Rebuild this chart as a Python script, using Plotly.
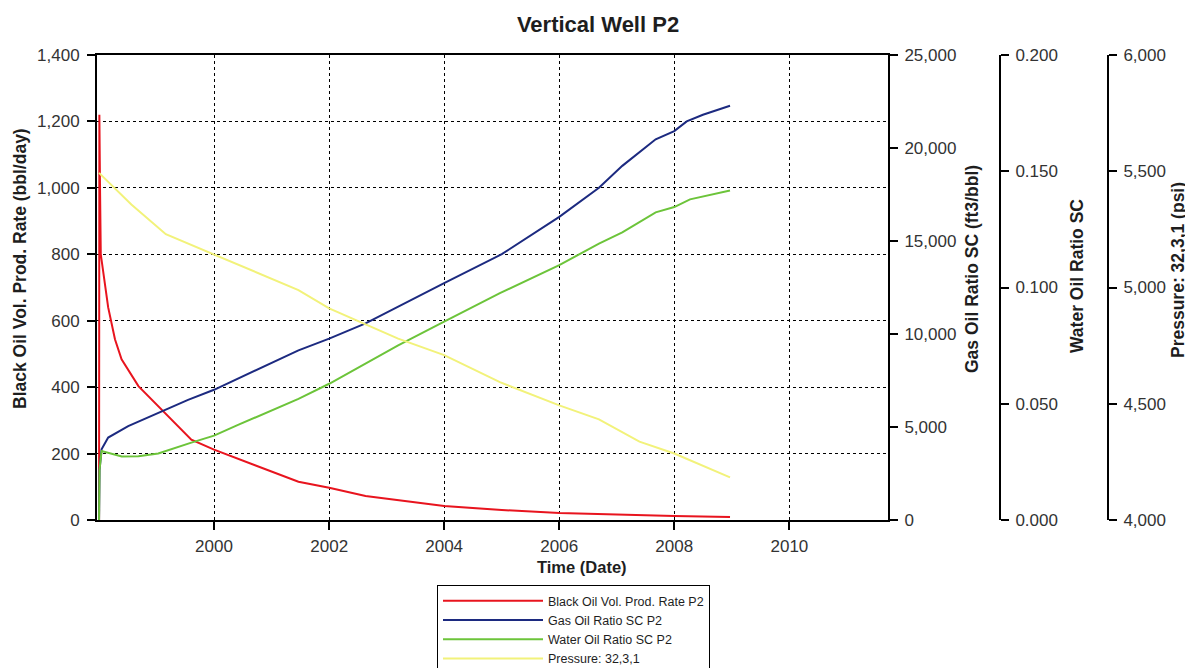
import plotly.graph_objects as go

# ---------------- data ----------------
oil_dates = ["1998-01-01", "1998-01-03", "1998-01-07", "1998-01-12", "1998-01-28", "1998-02-28",
             "1998-04-12", "1998-05-24", "1998-09-08", "1999-01-12", "1999-08-10", "2000-01-01",
             "2001-06-20", "2002-01-01", "2002-08-20", "2004-01-01", "2005-01-01", "2006-01-01",
             "2007-01-01", "2008-01-01", "2008-12-20"]
oil_rate = [0, 1220, 1010, 800, 740, 640, 544, 484, 403, 343, 242, 212,
            115, 97, 72, 42, 30, 21, 16, 12, 9]

gor_dates = ["1998-01-01", "1998-01-04", "1998-01-17", "1998-02-28", "1998-07-05", "1999-01-12",
             "1999-07-20", "2000-01-01", "2001-06-20", "2002-01-01", "2002-08-20", "2004-01-01",
             "2005-01-01", "2006-01-01", "2006-09-10", "2007-02-05", "2007-09-05", "2008-01-01",
             "2008-03-20", "2008-07-01", "2008-12-20"]
gor = [0, 2680, 3800, 4430, 5050, 5750, 6460, 7000, 9120, 9750, 10570, 12730,
       14290, 16300, 17860, 19040, 20470, 20910, 21430, 21790, 22270]

wor_dates = ["1998-01-01", "1998-01-04", "1998-01-17", "1998-05-25", "1998-09-08", "1999-01-12",
             "1999-08-10", "2000-01-01", "2000-06-05", "2001-06-20", "2002-01-01", "2003-03-15",
             "2004-01-01", "2004-12-20", "2006-01-01", "2006-09-10", "2007-02-05", "2007-09-05",
             "2008-01-01", "2008-04-10", "2008-12-20"]
wor = [0, 0.0214, 0.0297, 0.0273, 0.0274, 0.0286, 0.0333, 0.0363, 0.041, 0.0521, 0.0586, 0.0751,
       0.0853, 0.0976, 0.1096, 0.1189, 0.1237, 0.1323, 0.1346, 0.1379, 0.1417]

pres_dates = ["1998-01-01", "1998-07-25", "1999-03-01", "2000-01-01", "2001-06-20", "2002-01-01",
              "2003-03-15", "2004-01-01", "2004-12-20", "2006-01-01", "2006-09-10", "2007-05-25",
              "2008-01-01", "2008-12-20"]
pressure = [5493, 5357, 5229, 5143, 4989, 4910, 4780, 4709, 4593, 4493, 4433, 4337, 4286, 4183]

year_ticks = ["2000-01-01", "2002-01-01", "2004-01-01", "2006-01-01", "2008-01-01", "2010-01-01"]
year_labels = ["2000", "2002", "2004", "2006", "2008", "2010"]

names = ["Black Oil Vol. Prod. Rate P2", "Gas Oil Ratio SC P2", "Water Oil Ratio SC P2", "Pressure: 32,3,1"]
axis_titles = ["Black Oil Vol. Prod. Rate (bbl/day)", "Gas Oil Ratio SC (ft3/bbl)",
               "Water Oil Ratio SC", "Pressure: 32,3,1 (psi)"]

# ---------------- figure ----------------
FONT = "Liberation Sans, Arial, sans-serif"
TICKCOL = "#333333"
TXT = "#1e1e1e"

fig = go.Figure()
fig.add_trace(go.Scatter(x=oil_dates, y=oil_rate, name=names[0], mode="lines",
                         line=dict(color="#e8141e", width=2), yaxis="y"))
fig.add_trace(go.Scatter(x=gor_dates, y=gor, name=names[1], mode="lines",
                         line=dict(color="#1c2a80", width=2), yaxis="y2"))
fig.add_trace(go.Scatter(x=wor_dates, y=wor, name=names[2], mode="lines",
                         line=dict(color="#6cc43a", width=2), yaxis="y3"))
fig.add_trace(go.Scatter(x=pres_dates, y=pressure, name=names[3], mode="lines",
                         line=dict(color="#f2f27a", width=2), yaxis="y4"))

# the page body has an 8px default margin: the figure is drawn offset by OFF
OFF = 8
W, H = 1193 - OFF, 668 - OFF
PL, PR, PT, PB = 97, 888, 55, 520          # plot box in window pixels
ML, MT = PL - OFF, PT - OFF
MR = 4
MB = H - (PB - OFF)
pw = W - ML - MR
ph = H - MT - MB


def px_x(px):          # window pixel -> paper fraction
    return (px - PL) / pw


def px_y(py):
    return (PB - py) / ph


def cx(px):            # window pixel -> container fraction
    return (px - OFF) / W


def cy(py):
    return 1 - (py - OFF) / H


common_axis = dict(showline=True, linecolor="black", linewidth=2, ticks="outside",
                   ticklen=8, tickwidth=1.5, tickcolor="black",
                   tickfont=dict(size=17, color=TICKCOL, family=FONT), zeroline=False)

TITLE_FONT = dict(size=17.5, color=TXT, family=FONT)

# axis-title placements (window pixel centres)
title_pos = [(20, 269), (972, 269), (1077, 276), (1178, 270)]
annotations = [dict(text="<b>Time (Date)</b>", x=px_x(582), y=px_y(567),
                    xref="paper", yref="paper", xanchor="center", yanchor="middle",
                    showarrow=False, font=dict(size=16.5, color=TXT, family=FONT))]
for t, (tx, ty) in zip(axis_titles, title_pos):
    annotations.append(dict(text="<b>" + t + "</b>", x=px_x(tx), y=px_y(ty),
                            xref="paper", yref="paper", xanchor="center", yanchor="middle",
                            textangle=-90, showarrow=False, font=TITLE_FONT))

fig.update_layout(
    width=W, height=H,
    margin=dict(l=ML, r=MR, t=MT, b=MB, autoexpand=False),
    paper_bgcolor="white", plot_bgcolor="white",
    font=dict(family=FONT, color=TXT),
    title=dict(text="<b>Vertical Well P2</b>", x=cx(598), xref="container", xanchor="center",
               y=cy(24), yref="container", yanchor="middle",
               font=dict(size=22, color=TXT, family=FONT)),
    showlegend=True,
    legend=dict(x=cx(437), y=cy(585), xref="container", yref="container",
                xanchor="left", yanchor="top",
                bordercolor="black", borderwidth=1, bgcolor="white",
                font=dict(size=12.5, color=TXT, family=FONT),
                itemwidth=100, tracegroupgap=0),
    xaxis=dict(type="date", domain=[0, px_x(PR)],
               range=["1997-12-19", "2011-09-19"],
               tickmode="array", tickvals=year_ticks, ticktext=year_labels,
               showgrid=True, gridcolor="black", gridwidth=1, griddash="dot",
               mirror=True, ticklabelstandoff=2, **common_axis),
    yaxis=dict(range=[0, 1400], dtick=200, tickformat=",",
               showgrid=True, gridcolor="black", gridwidth=1, griddash="dot",
               ticklabelstandoff=4, **common_axis),
    yaxis2=dict(range=[0, 25000], dtick=5000, tickformat=",", overlaying="y", side="right",
                anchor="x", showgrid=False, ticklabelstandoff=3, **common_axis),
    yaxis3=dict(range=[0, 0.2], dtick=0.05, tickformat=".3f", overlaying="y", side="right",
                anchor="free", position=px_x(1000), showgrid=False, ticklabelstandoff=3,
                **common_axis),
    yaxis4=dict(range=[4000, 6000], dtick=500, tickformat=",", overlaying="y", side="right",
                anchor="free", position=px_x(1108), showgrid=False, ticklabelstandoff=3,
                **common_axis),
    annotations=annotations,
)

fig.write_html("out.html")
